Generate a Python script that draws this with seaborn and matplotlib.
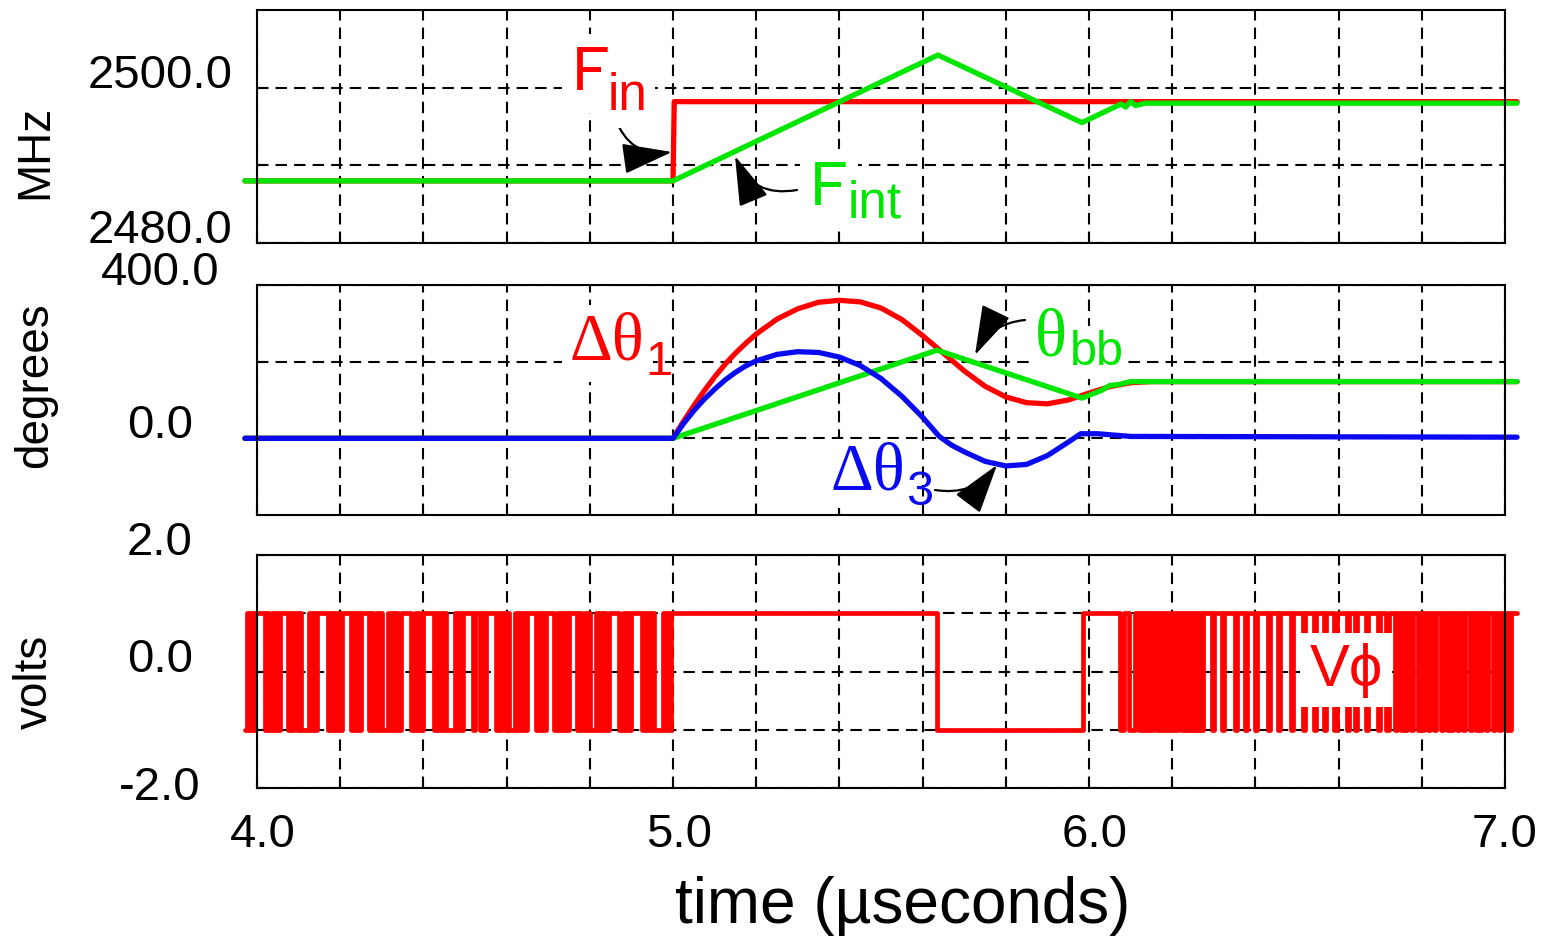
import numpy as np
import pandas as pd
import matplotlib
matplotlib.use("Agg")
import matplotlib.pyplot as plt
import matplotlib.transforms as mtransforms
import seaborn as sns

# ---------------- data ----------------
# top panel: frequencies (MHz)
fin_t = [3.971, 5.0, 5.003, 7.029]
fin_v = [2488.0, 2488.0, 2498.2, 2498.2]
fint_t = [3.971, 5.0, 5.637, 5.983, 6.077, 6.088, 6.100, 6.112, 6.135, 7.029]
fint_v = [2488.0, 2488.0, 2504.2, 2495.5, 2497.9, 2497.5, 2498.2, 2497.7, 2498.0, 2498.0]

# middle panel: phases (degrees)
d1_t = [3.971, 5.0, 5.025, 5.05, 5.075, 5.1, 5.125, 5.15, 5.175, 5.2, 5.25, 5.3, 5.35,
        5.4, 5.45, 5.5, 5.55, 5.6, 5.65, 5.7, 5.75, 5.8, 5.85, 5.9, 5.95, 6.0,
        6.05, 6.1, 6.15, 7.029]
d1_v = [0, 0, 44, 85, 124, 160, 193, 222, 248, 272, 311, 338, 355,
        360, 356, 340, 310, 268, 222, 176, 136, 108, 93, 90, 100, 118,
        135, 145, 148, 148]
d3_t = [3.971, 5.0, 5.025, 5.05, 5.075, 5.1, 5.125, 5.15, 5.175, 5.2, 5.25, 5.3,
        5.35, 5.4, 5.45, 5.5, 5.55, 5.6, 5.64, 5.67, 5.7, 5.75, 5.8, 5.85, 5.9,
        5.95, 5.98, 6.02, 6.1, 7.029]
d3_v = [0, 0, 38, 72, 102, 128, 152, 172, 189, 202, 219, 226,
        224, 212, 190, 156, 110, 55, 5, -18, -35, -60, -72, -68, -45,
        -10, 12, 12, 5, 3]
tbb_t = [3.971, 5.0, 5.635, 5.983, 6.03, 6.05, 6.07, 6.1, 7.029]
tbb_v = [0, 0, 230, 105, 125, 138, 140, 148, 148]

# bottom panel: phase detector output (volts), bit time 0.005 us
vphi_dt = 0.005
vphi_pre_start = 3.97
vphi_pre_bits = ("0101011111" "0101010111" "1010101000" "0101011111" "0101010111"
                 "1010101111" "0101010001" "0101011111" "0010101111" "1010101000"
                 "0101011111" "0110101111" "1010101000" "1010101111" "0101011110"
                 "1010101111" "0101010001" "0101011111" "0010101111" "1010101000"
                 "010101")
vphi_mid_t = [5.0, 5.635, 5.985]
vphi_mid_level = [1.0, -1.0, 1.0]
vphi_post_start = 6.075
vphi_post_bits = ("0011000110"
                  "101010101010101010101010101010"
                  "1111011110" "1111101111" "0111101111" "1011110111" "1101111101"
                  "1110111101" "1110111110" "1110111101" "1111011101"
                  "1101101011" "0110101101" "1011011010" "1101101101" "1010110110"
                  "1101101011"
                  "1")
vphi_end = 7.03

# axes / ticks
x_grid = [4.2, 4.4, 4.6, 4.8, 5.0, 5.2, 5.4, 5.6, 5.8, 6.0, 6.2, 6.4, 6.6, 6.8]
x_label_pos = [4.0, 5.0, 6.0, 7.0]
x_labels = ["4.0", "5.0", "6.0", "7.0"]
y1_lim = (2480, 2510); y1_grid = [2490, 2500]; y1_label_pos = [2480, 2500]; y1_labels = ["2480.0", "2500.0"]
y2_lim = (-200, 400); y2_grid = [0, 200]; y2_label_pos = [0, 400]; y2_labels = ["0.0", "400.0"]
y3_lim = (-2, 2); y3_grid = [-1, 0, 1]; y3_label_pos = [-2, 0, 2]; y3_labels = ["-2.0", "0.0", "2.0"]

RED = "#ff0000"
GREEN = "#00e600"
BLUE = "#0a0af0"

# ---------------- build V_phi step vertices ----------------
vt, vv = [], []
for i, b in enumerate(vphi_pre_bits):
    vt.append(vphi_pre_start + i * vphi_dt)
    vv.append(1.0 if b == "1" else -1.0)
vt += vphi_mid_t
vv += vphi_mid_level
for i, b in enumerate(vphi_post_bits):
    vt.append(vphi_post_start + i * vphi_dt)
    vv.append(1.0 if b == "1" else -1.0)
vt.append(vphi_end)
vv.append(vv[-1])

# ---------------- figure ----------------
sns.set_style("white")
plt.rcParams["font.family"] = ["Liberation Sans", "DejaVu Sans"]
plt.rcParams["text.color"] = "black"
plt.rcParams["axes.labelcolor"] = "black"
plt.rcParams["xtick.color"] = "black"
plt.rcParams["ytick.color"] = "black"

W, H = 1553, 938
fig = plt.figure(figsize=(W / 100, H / 100), dpi=100)


def rect(top, bottom):
    return [257 / W, 1 - bottom / H, (1505 - 257) / W, (bottom - top) / H]


ax1 = fig.add_axes(rect(10, 243))
ax2 = fig.add_axes(rect(285, 515))
ax3 = fig.add_axes(rect(555, 788))

LW = 3.8
kw = dict(estimator=None, sort=False, linewidth=LW, clip_on=False, legend=False)
sns.lineplot(x=fin_t, y=fin_v, ax=ax1, color=RED, **kw)
sns.lineplot(x=fint_t, y=fint_v, ax=ax1, color=GREEN, **kw)

sns.lineplot(x=d1_t, y=d1_v, ax=ax2, color=RED, **kw)
sns.lineplot(x=tbb_t, y=tbb_v, ax=ax2, color=GREEN, **kw)
sns.lineplot(x=d3_t, y=d3_v, ax=ax2, color=BLUE, **kw)

sns.lineplot(x=vt, y=vv, ax=ax3, color=RED, estimator=None, sort=False,
             linewidth=3.4, clip_on=False, legend=False, drawstyle="steps-post")

specs = [(ax1, y1_lim, y1_grid, y1_label_pos, y1_labels),
         (ax2, y2_lim, y2_grid, y2_label_pos, y2_labels),
         (ax3, y3_lim, y3_grid, y3_label_pos, y3_labels)]
for ax, ylim, ygrid, ypos, ylabs in specs:
    ax.set_xlim(4.0, 7.0)
    ax.set_ylim(*ylim)
    ax.set_xticks(x_label_pos)
    ax.set_xticks(x_grid, minor=True)
    ax.set_yticks(ypos)
    ax.set_yticks(ygrid, minor=True)
    ax.set_yticklabels(ylabs)
    if ax is ax3:
        ax.set_xticklabels(x_labels)
    else:
        ax.set_xticklabels([])
    ax.set_axisbelow(True)
    ax.grid(which="both", color="black", linestyle=(0, (5.5, 3.4)), linewidth=1.5)
    for s in ax.spines.values():
        s.set_color("black")
        s.set_linewidth(1.5)
        s.set_visible(True)
    ax.tick_params(which="both", direction="in", length=6, width=1.5, color="black",
                   top=False, right=False, left=True, bottom=True)
    ax.tick_params(axis="y", which="major", labelsize=34, pad=70, labelcolor="black")
    ax.tick_params(axis="x", which="major", labelsize=34, pad=18, labelcolor="black")
    for lab in ax.get_yticklabels():
        lab.set_horizontalalignment("center")
        lab.set_verticalalignment("baseline")
    ax.set_xlabel("")
ax3.get_yticklabels()[0].set_verticalalignment("center")
shift = mtransforms.ScaledTranslation(6 / 100, 0, fig.dpi_scale_trans)
for lab in ax3.get_xticklabels()[:3]:
    lab.set_transform(lab.get_transform() + shift)

# axis labels
ax1.set_ylabel("MHz", fontsize=33, color="black")
ax2.set_ylabel("degrees", fontsize=33, color="black")
ax3.set_ylabel("volts", fontsize=33, color="black")
for ax, yc in [(ax1, 0.39), (ax2, 0.565), (ax3, 0.455)]:
    ax.yaxis.set_label_coords(-0.178, yc)
    ax.yaxis.label.set_verticalalignment("center")
ax3.set_xlabel("time (\u00b5seconds)", fontsize=46, color="black")
ax3.xaxis.set_label_coords(0.517, -0.378)


# ---------------- annotations ----------------
def ftxt(x, y, s, size, color, family=("Liberation Sans", "DejaVu Sans"), pad=3):
    bbox = None if pad is None else dict(facecolor="white", edgecolor="none", pad=pad)
    fig.text(x / W, 1 - y / H, s, ha="left", va="baseline", fontsize=size,
             color=color, family=list(family), zorder=10, bbox=bbox)


def arrow(ax, tail, tip, rad):
    ax.annotate("", xy=(tip[0], H - tip[1]), xytext=(tail[0], H - tail[1]),
                xycoords="figure pixels", textcoords="figure pixels",
                annotation_clip=False, clip_on=False, zorder=11,
                arrowprops=dict(arrowstyle="-|>,head_length=1.3,head_width=0.4",
                                mutation_scale=24, color="black", lw=1.6,
                                shrinkA=0, shrinkB=0, clip_on=False,
                                connectionstyle=f"arc3,rad={rad}"))


SERIF = ("Liberation Serif", "DejaVu Serif")
# F_in
ftxt(572, 90, "F", 45, RED, pad=7)
ftxt(608, 110, "in", 37, RED, pad=5)
arrow(ax1, (615, 118), (672, 152), 0.4)
# F_int
ftxt(810, 205, "F", 45, GREEN, pad=7)
ftxt(848, 218, "int", 37, GREEN, pad=5)
arrow(ax1, (797, 190), (735, 156), -0.4)
# delta theta 1
ftxt(570, 360, "\u0394\u03b8", 48, RED, family=SERIF, pad=6)
ftxt(645, 375, "1", 35, RED, pad=None)
# theta bb
ftxt(1035, 355, "\u03b8", 48, GREEN, family=SERIF)
ftxt(1070, 365, "bb", 35, GREEN)
arrow(ax2, (1025, 320), (975, 355), 0.28)
# delta theta 3
ftxt(830, 490, "\u0394\u03b8", 48, BLUE, family=SERIF)
ftxt(906, 505, "3", 35, BLUE, pad=None)
arrow(ax2, (935, 490), (997, 465), 0.3)
# V phi
fig.text(1346 / W, 1 - 670 / H, "V\u03d5", ha="center", va="center", fontsize=43,
         color=RED, zorder=10, family=["Liberation Sans", "DejaVu Sans"],
         bbox=dict(facecolor="white", edgecolor="none", pad=7))

fig.savefig("out.png", dpi=100)
